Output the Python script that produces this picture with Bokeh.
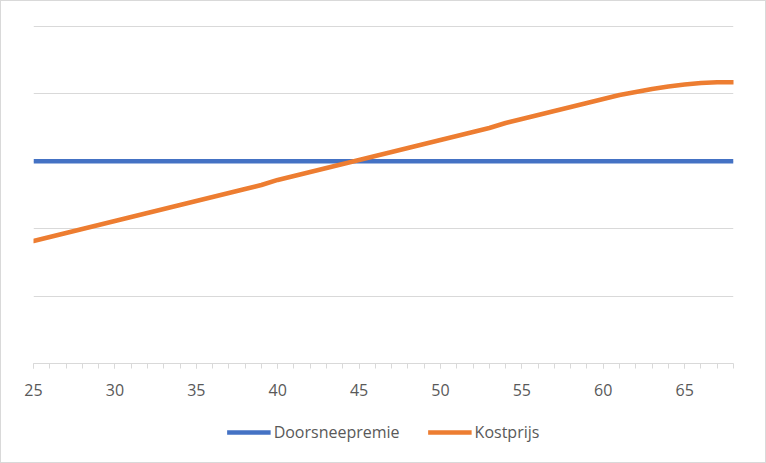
from bokeh.plotting import figure
from bokeh.layouts import column
from bokeh.models import Range1d, SingleIntervalTicker, Legend, LegendItem
from bokeh.embed import file_html
from bokeh.resources import INLINE

ages = list(range(25, 69))
doorsneepremie = [300.0] * len(ages)
kostprijs = [181.8, 187.7, 193.6, 199.6, 205.5, 211.4, 217.4, 223.3, 229.2, 235.2,
             241.1, 247.0, 253.0, 258.9, 264.8, 272.3, 278.2, 284.1, 290.1, 296.0,
             301.9, 307.9, 313.8, 319.7, 325.7, 331.6, 337.5, 343.5, 349.4, 356.8,
             362.8, 368.7, 374.6, 380.6, 386.5, 392.4, 398.4, 402.8, 407.3, 411.0,
             413.9, 416.2, 417.4, 417.4]
series_names = ["Doorsneepremie", "Kostprijs"]
colors = ["#4472C4", "#ED7D31"]

FONT = "Open Sans"
GRID = "#d9d9d9"
TEXT = "#595959"

p = figure(width=764, height=406, output_backend="svg", toolbar_location=None,
           x_range=Range1d(25, 68), y_range=Range1d(0, 501.48),
           min_border_left=32, min_border_right=32, min_border_top=24,
           min_border_bottom=44, outline_line_color=None,
           background_fill_color="white", border_fill_color="white")

p.yaxis.visible = False
p.xgrid.visible = False
p.ygrid.ticker = SingleIntervalTicker(interval=100)
p.ygrid.grid_line_color = GRID
p.ygrid.grid_line_width = 1

xa = p.xaxis[0]
xa.ticker = SingleIntervalTicker(interval=5, num_minor_ticks=5)
xa.axis_line_color = GRID
xa.axis_line_width = 1
xa.major_tick_line_color = GRID
xa.minor_tick_line_color = GRID
xa.major_tick_in = 0
xa.major_tick_out = 5
xa.minor_tick_in = 0
xa.minor_tick_out = 5
xa.major_label_text_font = FONT
xa.major_label_text_font_size = "16px"
xa.major_label_text_color = TEXT
xa.major_label_standoff = 15

p.line(ages, doorsneepremie, line_color=colors[0], line_width=4.5)
p.line(ages, kostprijs, line_color=colors[1], line_width=4.5,
       line_join="round", line_cap="round")

# legend strip below the chart (series drawn outside its visible range,
# so only the legend entries show)
p2 = figure(width=764, height=55, output_backend="svg", toolbar_location=None,
            x_range=Range1d(0, 1), y_range=Range1d(0, 1),
            min_border=0, outline_line_color=None,
            background_fill_color="white", border_fill_color="white")
p2.xaxis.visible = False
p2.yaxis.visible = False
p2.xgrid.visible = False
p2.ygrid.visible = False
k1 = p2.line(ages, doorsneepremie, line_color=colors[0], line_width=4.5)
k2 = p2.line(ages, kostprijs, line_color=colors[1], line_width=4.5)

legend = Legend(items=[LegendItem(label=series_names[0], renderers=[k1]),
                       LegendItem(label=series_names[1], renderers=[k2])],
                orientation="horizontal", location="top_center",
                glyph_width=44, glyph_height=16, label_standoff=3, spacing=28,
                label_text_font=FONT, label_text_font_size="16px",
                label_text_color=TEXT, border_line_color=None,
                background_fill_alpha=0, margin=14, padding=0)
p2.add_layout(legend)

layout = column(p, p2, spacing=0,
                styles={"border": "1px solid #d9d9d9"})

tmpl = """{% block preamble %}<style>html, body { margin: 0; padding: 0; }</style>{% endblock %}"""
open("out.html", "w").write(file_html(layout, INLINE, template=tmpl))
